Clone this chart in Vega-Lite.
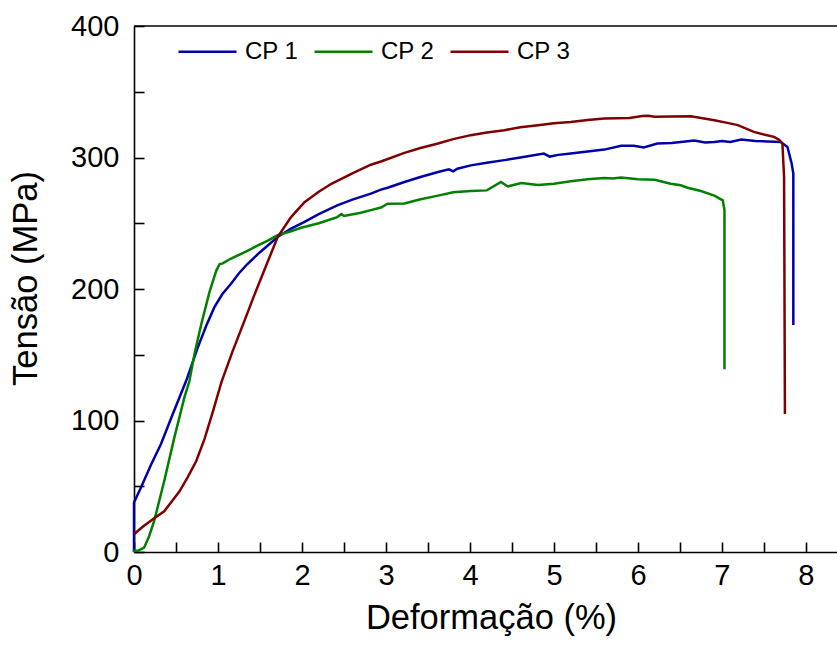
{
  "$schema": "https://vega.github.io/schema/vega-lite/v6.json",
  "width": 703,
  "height": 526,
  "autosize": {"type": "none"},
  "padding": {"left": 134, "top": 26, "right": 0, "bottom": 96},
  "background": "white",
  "config": {
    "view": {"stroke": null},
    "font": "Liberation Sans",
    "axis": {
      "domainColor": "black",
      "domainWidth": 1.6,
      "tickColor": "black",
      "tickWidth": 1.6,
      "grid": false,
      "labelFont": "Liberation Sans",
      "labelColor": "black",
      "labelOverlap": false,
      "labelFlush": false,
      "titleFont": "Liberation Sans",
      "titleFontWeight": "normal",
      "titleColor": "black"
    }
  },
  "layer": [
    {
      "data": {
        "values": [
          {"s": "CP 1", "x": 0, "y": 0}, {"s": "CP 1", "x": 0, "y": 37.6}, {"s": "CP 1", "x": 0.083, "y": 49}, {"s": "CP 1", "x": 0.2, "y": 66}, {"s": "CP 1", "x": 0.32, "y": 82}, {"s": "CP 1", "x": 0.45, "y": 103}, {"s": "CP 1", "x": 0.62, "y": 130}, {"s": "CP 1", "x": 0.76, "y": 155.6}, {"s": "CP 1", "x": 0.86, "y": 172}, {"s": "CP 1", "x": 0.956, "y": 186}, {"s": "CP 1", "x": 1.05, "y": 196}, {"s": "CP 1", "x": 1.155, "y": 204}, {"s": "CP 1", "x": 1.25, "y": 212}, {"s": "CP 1", "x": 1.35, "y": 219}, {"s": "CP 1", "x": 1.5, "y": 228}, {"s": "CP 1", "x": 1.71, "y": 239.5}, {"s": "CP 1", "x": 1.87, "y": 246}, {"s": "CP 1", "x": 2.03, "y": 251}, {"s": "CP 1", "x": 2.2, "y": 257}, {"s": "CP 1", "x": 2.42, "y": 263.6}, {"s": "CP 1", "x": 2.6, "y": 268}, {"s": "CP 1", "x": 2.82, "y": 272.5}, {"s": "CP 1", "x": 2.94, "y": 275.6}, {"s": "CP 1", "x": 3.02, "y": 277}, {"s": "CP 1", "x": 3.22, "y": 281.4}, {"s": "CP 1", "x": 3.4, "y": 285}, {"s": "CP 1", "x": 3.62, "y": 289}, {"s": "CP 1", "x": 3.75, "y": 291}, {"s": "CP 1", "x": 3.8, "y": 289.5}, {"s": "CP 1", "x": 3.85, "y": 291.5}, {"s": "CP 1", "x": 4.01, "y": 294}, {"s": "CP 1", "x": 4.2, "y": 296}, {"s": "CP 1", "x": 4.41, "y": 298}, {"s": "CP 1", "x": 4.6, "y": 300}, {"s": "CP 1", "x": 4.88, "y": 303}, {"s": "CP 1", "x": 4.95, "y": 300.7}, {"s": "CP 1", "x": 5.05, "y": 302}, {"s": "CP 1", "x": 5.2, "y": 303}, {"s": "CP 1", "x": 5.4, "y": 304.5}, {"s": "CP 1", "x": 5.6, "y": 306}, {"s": "CP 1", "x": 5.8, "y": 309}, {"s": "CP 1", "x": 5.95, "y": 309}, {"s": "CP 1", "x": 6.07, "y": 307.6}, {"s": "CP 1", "x": 6.23, "y": 310.6}, {"s": "CP 1", "x": 6.4, "y": 311}, {"s": "CP 1", "x": 6.51, "y": 311.8}, {"s": "CP 1", "x": 6.67, "y": 313}, {"s": "CP 1", "x": 6.8, "y": 311.5}, {"s": "CP 1", "x": 6.91, "y": 311.8}, {"s": "CP 1", "x": 7.0, "y": 312.6}, {"s": "CP 1", "x": 7.1, "y": 311.8}, {"s": "CP 1", "x": 7.23, "y": 313.7}, {"s": "CP 1", "x": 7.4, "y": 312.5}, {"s": "CP 1", "x": 7.7, "y": 311.8}, {"s": "CP 1", "x": 7.78, "y": 308}, {"s": "CP 1", "x": 7.83, "y": 295.4}, {"s": "CP 1", "x": 7.85, "y": 287.8}, {"s": "CP 1", "x": 7.85, "y": 172.7},
          {"s": "CP 2", "x": 0, "y": 0}, {"s": "CP 2", "x": 0, "y": 1}, {"s": "CP 2", "x": 0.05, "y": 1}, {"s": "CP 2", "x": 0.12, "y": 3.3}, {"s": "CP 2", "x": 0.18, "y": 12}, {"s": "CP 2", "x": 0.24, "y": 23.6}, {"s": "CP 2", "x": 0.36, "y": 54}, {"s": "CP 2", "x": 0.48, "y": 87}, {"s": "CP 2", "x": 0.6, "y": 117.6}, {"s": "CP 2", "x": 0.66, "y": 130}, {"s": "CP 2", "x": 0.72, "y": 150.6}, {"s": "CP 2", "x": 0.8, "y": 173}, {"s": "CP 2", "x": 0.9, "y": 198}, {"s": "CP 2", "x": 0.98, "y": 214}, {"s": "CP 2", "x": 1.02, "y": 219}, {"s": "CP 2", "x": 1.056, "y": 219.5}, {"s": "CP 2", "x": 1.15, "y": 223}, {"s": "CP 2", "x": 1.25, "y": 226}, {"s": "CP 2", "x": 1.35, "y": 229}, {"s": "CP 2", "x": 1.5, "y": 234}, {"s": "CP 2", "x": 1.6, "y": 237}, {"s": "CP 2", "x": 1.71, "y": 241}, {"s": "CP 2", "x": 1.85, "y": 243.5}, {"s": "CP 2", "x": 1.99, "y": 246.6}, {"s": "CP 2", "x": 2.2, "y": 250}, {"s": "CP 2", "x": 2.42, "y": 254.7}, {"s": "CP 2", "x": 2.47, "y": 257}, {"s": "CP 2", "x": 2.5, "y": 255.5}, {"s": "CP 2", "x": 2.7, "y": 258}, {"s": "CP 2", "x": 2.82, "y": 260}, {"s": "CP 2", "x": 2.94, "y": 262}, {"s": "CP 2", "x": 3.02, "y": 264.9}, {"s": "CP 2", "x": 3.22, "y": 265}, {"s": "CP 2", "x": 3.4, "y": 268}, {"s": "CP 2", "x": 3.62, "y": 271}, {"s": "CP 2", "x": 3.8, "y": 273.5}, {"s": "CP 2", "x": 4.01, "y": 274.5}, {"s": "CP 2", "x": 4.2, "y": 275}, {"s": "CP 2", "x": 4.37, "y": 281.4}, {"s": "CP 2", "x": 4.45, "y": 278}, {"s": "CP 2", "x": 4.61, "y": 280.6}, {"s": "CP 2", "x": 4.81, "y": 279}, {"s": "CP 2", "x": 5.0, "y": 280}, {"s": "CP 2", "x": 5.2, "y": 282}, {"s": "CP 2", "x": 5.4, "y": 283.5}, {"s": "CP 2", "x": 5.6, "y": 284.4}, {"s": "CP 2", "x": 5.7, "y": 284}, {"s": "CP 2", "x": 5.8, "y": 284.8}, {"s": "CP 2", "x": 6.0, "y": 283.4}, {"s": "CP 2", "x": 6.2, "y": 283}, {"s": "CP 2", "x": 6.39, "y": 280}, {"s": "CP 2", "x": 6.51, "y": 278.9}, {"s": "CP 2", "x": 6.59, "y": 277}, {"s": "CP 2", "x": 6.75, "y": 274.5}, {"s": "CP 2", "x": 6.91, "y": 271}, {"s": "CP 2", "x": 7.01, "y": 267.4}, {"s": "CP 2", "x": 7.03, "y": 260}, {"s": "CP 2", "x": 7.03, "y": 139},
          {"s": "CP 3", "x": 0, "y": 13.5}, {"s": "CP 3", "x": 0.1, "y": 19}, {"s": "CP 3", "x": 0.24, "y": 25.7}, {"s": "CP 3", "x": 0.36, "y": 31}, {"s": "CP 3", "x": 0.44, "y": 37.6}, {"s": "CP 3", "x": 0.54, "y": 46}, {"s": "CP 3", "x": 0.64, "y": 57}, {"s": "CP 3", "x": 0.74, "y": 69}, {"s": "CP 3", "x": 0.84, "y": 86}, {"s": "CP 3", "x": 0.94, "y": 107}, {"s": "CP 3", "x": 1.04, "y": 129}, {"s": "CP 3", "x": 1.17, "y": 152}, {"s": "CP 3", "x": 1.31, "y": 175}, {"s": "CP 3", "x": 1.43, "y": 195}, {"s": "CP 3", "x": 1.55, "y": 214}, {"s": "CP 3", "x": 1.71, "y": 239.5}, {"s": "CP 3", "x": 1.87, "y": 254.7}, {"s": "CP 3", "x": 2.03, "y": 266}, {"s": "CP 3", "x": 2.2, "y": 274}, {"s": "CP 3", "x": 2.35, "y": 280}, {"s": "CP 3", "x": 2.6, "y": 288}, {"s": "CP 3", "x": 2.82, "y": 294.5}, {"s": "CP 3", "x": 2.94, "y": 297}, {"s": "CP 3", "x": 3.22, "y": 303.5}, {"s": "CP 3", "x": 3.4, "y": 307}, {"s": "CP 3", "x": 3.62, "y": 310.6}, {"s": "CP 3", "x": 3.8, "y": 314}, {"s": "CP 3", "x": 4.01, "y": 317}, {"s": "CP 3", "x": 4.2, "y": 319}, {"s": "CP 3", "x": 4.41, "y": 320.8}, {"s": "CP 3", "x": 4.6, "y": 323}, {"s": "CP 3", "x": 4.81, "y": 324.6}, {"s": "CP 3", "x": 5.0, "y": 326}, {"s": "CP 3", "x": 5.2, "y": 327}, {"s": "CP 3", "x": 5.4, "y": 328.5}, {"s": "CP 3", "x": 5.6, "y": 329.7}, {"s": "CP 3", "x": 5.9, "y": 330}, {"s": "CP 3", "x": 6.05, "y": 331.5}, {"s": "CP 3", "x": 6.12, "y": 331.7}, {"s": "CP 3", "x": 6.2, "y": 331}, {"s": "CP 3", "x": 6.4, "y": 331.2}, {"s": "CP 3", "x": 6.63, "y": 331.4}, {"s": "CP 3", "x": 6.91, "y": 328.4}, {"s": "CP 3", "x": 7.05, "y": 326.5}, {"s": "CP 3", "x": 7.19, "y": 324.6}, {"s": "CP 3", "x": 7.38, "y": 319.5}, {"s": "CP 3", "x": 7.5, "y": 317.5}, {"s": "CP 3", "x": 7.62, "y": 315.7}, {"s": "CP 3", "x": 7.68, "y": 313.5}, {"s": "CP 3", "x": 7.72, "y": 310.6}, {"s": "CP 3", "x": 7.74, "y": 285}, {"s": "CP 3", "x": 7.75, "y": 105}
        ]
      },
      "mark": {"type": "line", "strokeWidth": 2.5},
      "encoding": {
        "x": {
          "field": "x",
          "type": "quantitative",
          "scale": {"domain": [0, 8.37], "nice": false, "zero": false},
          "axis": {
            "title": "Deformação (%)",
            "titleFontSize": 34.5,
            "titlePadding": 11,
            "titleX": 357,
            "values": [0, 0.5, 1, 1.5, 2, 2.5, 3, 3.5, 4, 4.5, 5, 5.5, 6, 6.5, 7, 7.5, 8],
            "labelExpr": "datum.value % 1 === 0 ? format(datum.value, 'd') : ''",
            "labelFontSize": 29,
            "labelPadding": 19,
            "tickSize": -10,
            "encode": {"ticks": {"update": {"y2": {"signal": "datum.value % 1 === 0 ? -10 : -5"}}}}
          }
        },
        "y": {
          "field": "y",
          "type": "quantitative",
          "scale": {"domain": [0, 400], "nice": false},
          "axis": {
            "title": "Tensão (MPa)",
            "titleFontSize": 34.5,
            "titlePadding": 27,
            "titleY": 252,
            "values": [0, 50, 100, 150, 200, 250, 300, 350, 400],
            "labelExpr": "datum.value % 100 === 0 ? format(datum.value, 'd') : ''",
            "labelFontSize": 29,
            "labelPadding": 25,
            "tickSize": -10,
            "encode": {"ticks": {"update": {"x2": {"signal": "datum.value % 100 === 0 ? 10 : 5"}}}}
          }
        },
        "color": {
          "field": "s",
          "type": "nominal",
          "scale": {"domain": ["CP 1", "CP 2", "CP 3"], "range": ["#0000AA", "#008000", "#800000"]},
          "legend": {
            "title": null,
            "orient": "none",
            "direction": "horizontal",
            "legendX": 43,
            "legendY": -5,
            "padding": 0,
            "symbolType": "stroke",
            "symbolSize": 3364,
            "symbolStrokeWidth": 2.5,
            "labelFontSize": 24,
            "labelFont": "Liberation Sans",
            "labelColor": "black",
            "labelOffset": 7,
            "columnPadding": 10
          }
        },
        "order": {"value": null}
      }
    },
    {
      "data": {"values": [{}]},
      "mark": {"type": "rule", "color": "black", "strokeWidth": 1.6},
      "encoding": {"y": {"datum": 400}}
    }
  ]
}
